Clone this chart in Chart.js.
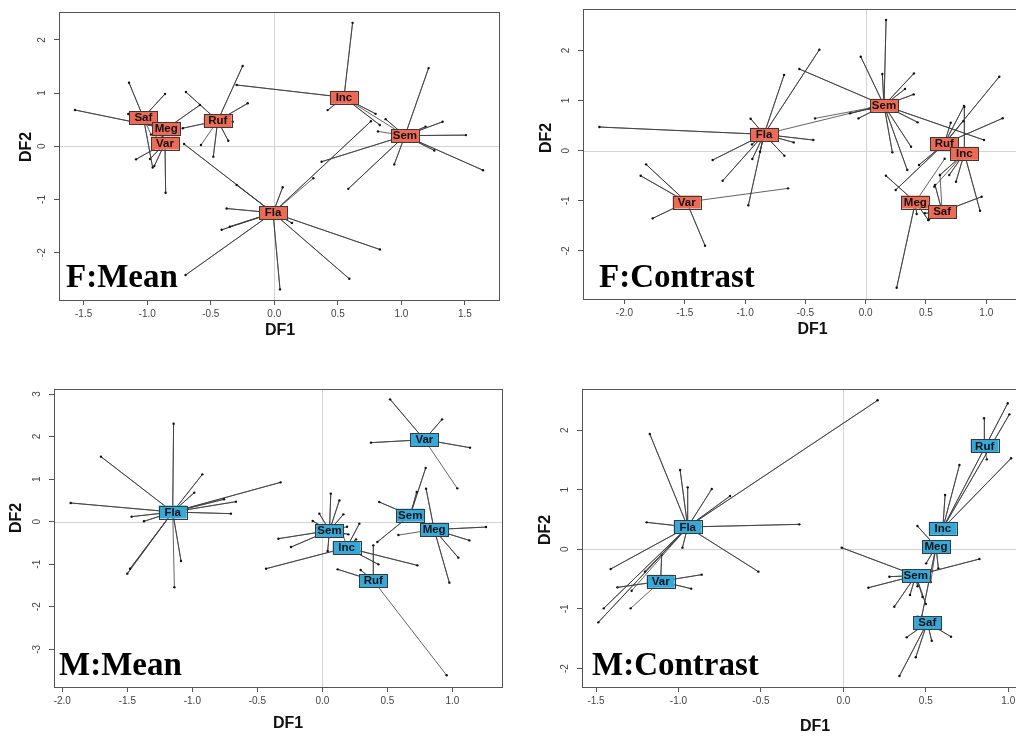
<!DOCTYPE html>
<html>
<head>
<meta charset="utf-8">
<script src="https://cdn.jsdelivr.net/npm/chart.js@4.4.1/dist/chart.umd.min.js"></script>
<style>
html, body { margin: 0; padding: 0; background: #fff; overflow: hidden; width: 1016px; height: 736px; }
canvas { position: absolute; }
</style>
</head>
<body>
<canvas id="fMean" width="508" height="345" style="left:0;top:0"></canvas>
<canvas id="fContrast" width="545" height="345" style="left:508px;top:0"></canvas>
<canvas id="mMean" width="508" height="366" style="left:0;top:370px"></canvas>
<canvas id="mContrast" width="545" height="366" style="left:508px;top:370px"></canvas>
<script>
// ---- F:Mean ----
const fMeanGroups = ['Saf', 'Meg', 'Var', 'Ruf', 'Inc', 'Sem', 'Fla'];
const fMeanCentroids = [[-1.03, 0.54], [-0.85, 0.33], [-0.86, 0.06], [-0.445, 0.48], [0.548, 0.92], [1.028, 0.20], [-0.01, -1.25]];
const fMeanPoints = [
    [[-1.143, 1.195], [-0.86, 0.983], [-1.149, 0.607], [-0.957, -0.40], [-0.97, 0.22]],
    [[-1.568, 0.682], [-0.585, 0.776], [-0.93, 0.21], [-0.76, 0.34], [-0.88, 0.18]],
    [[-1.088, -0.245], [-0.978, -0.24], [-0.944, -0.37], [-0.855, -0.872], [-0.93, 0.16]],
    [[-0.695, 1.02], [-0.249, 1.51], [-0.209, 0.808], [-0.327, 0.463], [-0.72, 0.34], [-0.362, 0.105], [-0.48, -0.195], [-0.577, 0.024]],
    [[0.616, 2.32], [0.42, 0.68], [0.797, 0.61], [-0.296, 1.152], [0.83, 0.40], [0.976, 0.28]],
    [[1.214, 1.47], [1.324, 0.46], [1.19, 0.37], [1.508, 0.21], [1.642, -0.45], [1.259, -0.08], [0.944, -0.34], [0.582, -0.80], [0.372, -0.29], [0.876, 0.51], [0.816, 0.28]],
    [[0.066, -0.77], [-0.375, -1.17], [-0.414, -1.57], [-0.35, -1.51], [-0.698, -2.42], [0.045, -2.69], [0.59, -2.49], [0.831, -1.94], [0.139, -1.44], [-0.71, 0.043], [-0.296, -0.727], [0.76, 0.47], [0.307, -0.60]]
];
const fMeanXTicks = [-1.5, -1.0, -0.5, 0.0, 0.5, 1.0, 1.5];
const fMeanYTicks = [-2, -1, 0, 1, 2];

// ---- F:Contrast ----
const fContrastGroups = ['Sem', 'Fla', 'Var', 'Ruf', 'Inc', 'Meg', 'Saf'];
const fContrastCentroids = [[0.152, 0.905], [-0.843, 0.326], [-1.484, -1.025], [0.652, 0.138], [0.818, -0.053], [0.412, -1.025], [0.634, -1.218]];
const fContrastPoints = [
    [[0.169, 2.608], [-0.041, 1.876], [0.138, 1.53], [0.40, 1.543], [0.326, 1.231], [0.398, 1.124], [-0.55, 1.63], [0.431, 0.566], [0.376, 0.08], [0.221, -0.033], [0.345, -0.386], [0.981, 0.213], [-0.06, 0.645], [-0.13, 0.745], [-0.42, 0.645]],
    [[-2.208, 0.472], [-0.954, 0.639], [-0.677, 1.51], [-0.384, 2.016], [-0.434, 0.213], [-0.597, 0.166], [-0.674, -0.10], [-1.269, -0.186], [-1.186, -0.60], [-0.973, -1.09], [-0.94, -0.166], [-0.943, 0.126], [-0.876, -0.02], [0.03, 0.84]],
    [[-1.821, -0.273], [-1.866, -0.50], [-1.766, -1.35], [-1.332, -1.896], [-0.644, -0.752]],
    [[0.705, 0.559], [0.815, 0.892], [1.108, 1.477], [1.136, 0.647], [0.249, -0.784], [0.442, -0.285], [0.81, 0.59]],
    [[0.749, -0.619], [0.948, -1.198], [0.818, 0.878], [0.693, -0.485], [0.616, -0.485], [0.569, -0.718]],
    [[0.168, -0.499], [0.257, -2.735], [0.423, -1.263], [0.52, -1.383], [0.655, -0.16]],
    [[0.962, -0.918], [0.52, -1.383], [0.49, -1.25], [0.575, -0.685], [0.616, -0.486]]
];
const fContrastXTicks = [-2.0, -1.5, -1.0, -0.5, 0.0, 0.5, 1.0];
const fContrastYTicks = [-2, -1, 0, 1, 2];

// ---- M:Mean ----
const mMeanGroups = ['Fla', 'Var', 'Sem', 'Sem', 'Meg', 'Inc', 'Ruf'];
const mMeanCentroids = [[-1.151, 0.227], [0.785, 1.927], [0.055, -0.21], [0.676, 0.152], [0.86, -0.185], [0.187, -0.611], [0.392, -1.385]];
const mMeanPoints = [
    [[-1.144, 2.303], [-1.703, 1.528], [-0.923, 1.112], [-0.985, 0.682], [-0.321, 0.924], [-0.664, 0.47], [-0.756, 0.525], [-0.703, 0.188], [-1.936, 0.439], [-1.467, 0.118], [-1.372, 0.008], [-1.50, -1.222], [-1.479, -1.105], [-1.087, -0.924], [-1.138, -1.543]],
    [[0.521, 2.875], [0.921, 2.405], [0.374, 1.857], [1.136, 1.739], [1.038, 0.783]],
    [[0.065, 0.658], [0.131, 0.50], [-0.023, 0.188], [0.162, 0.172], [-0.074, 0.015], [-0.338, -0.40], [-0.241, -0.597], [0.041, -0.69], [0.2, -0.298], [0.19, -0.12]],
    [[0.795, 1.261], [0.726, 0.696], [0.438, 0.461], [0.423, -0.479], [0.585, 0.12]],
    [[0.798, 0.776], [1.259, -0.127], [1.131, -0.44], [1.046, -0.846], [0.977, -1.434], [0.585, -0.315]],
    [[-0.433, -1.105], [0.285, -0.047], [0.259, -0.416], [0.731, -1.027], [0.431, -1.003], [0.16, -0.3]],
    [[0.118, -1.121], [0.295, -1.137], [0.392, -0.557], [0.956, -3.611]]
];
const mMeanXTicks = [-2.0, -1.5, -1.0, -0.5, 0.0, 0.5, 1.0];
const mMeanYTicks = [-3, -2, -1, 0, 1, 2, 3];

// ---- M:Contrast ----
const mContrastGroups = ['Fla', 'Var', 'Ruf', 'Inc', 'Meg', 'Sem', 'Saf'];
const mContrastCentroids = [[-0.944, 0.375], [-1.108, -0.537], [0.857, 1.736], [0.603, 0.352], [0.562, 0.045], [0.439, -0.44], [0.509, -1.23]];
const mContrastPoints = [
    [[0.208, 2.50], [-1.174, 1.935], [-0.99, 1.331], [-0.944, 1.04], [-0.798, 1.012], [-0.687, 0.895], [-1.193, 0.453], [-0.267, 0.419], [-0.515, -0.375], [-0.976, 0.028], [-1.411, -0.33], [-1.453, -0.99], [-1.486, -1.225], [-1.203, -0.375], [-1.284, -0.694]],
    [[-1.102, -0.095], [-0.859, -0.425], [-0.923, -0.66], [-1.37, -0.638], [-1.29, -0.99]],
    [[0.853, 2.198], [0.87, 1.51]],
    [[0.997, 2.45], [1.007, 2.265], [1.017, 1.527], [0.704, 1.414], [0.617, 0.911], [0.6, 0.25]],
    [[0.449, 0.391], [0.576, -0.319], [0.502, -0.235], [0.475, -1.131], [0.53, -0.55]],
    [[-0.01, 0.027], [0.825, -0.163], [0.279, -0.459], [0.152, -0.644], [0.309, -0.963], [0.404, -0.767], [0.5, -0.918], [0.45, -0.62], [0.48, -0.8]],
    [[0.34, -2.126], [0.439, -1.812], [0.536, -1.533], [0.653, -1.466], [0.384, -1.477], [0.45, -1.13]]
];
const mContrastXTicks = [-1.5, -1.0, -0.5, 0.0, 0.5, 1.0];
const mContrastYTicks = [-2, -1, 0, 1, 2];

const ORANGE = '#ef6a55';
const BLUE = '#35a9da';

// draws the R-ish frame, zero lines, rotated y labels, axis titles, boxed group labels and the panel tag
function makeRPlot(p) {
    return {
        id: 'rPlot',
        beforeDatasetsDraw(chart) {
            const { ctx, chartArea: a, scales: { x, y } } = chart;
            ctx.save();
            ctx.lineWidth = 1;
            ctx.strokeStyle = '#d4d4d4';
            const x0 = Math.round(x.getPixelForValue(0)) + 0.5;
            const y0 = Math.round(y.getPixelForValue(0)) + 0.5;
            ctx.beginPath();
            ctx.moveTo(x0, a.top); ctx.lineTo(x0, a.bottom);
            ctx.moveTo(a.left, y0); ctx.lineTo(a.right, y0);
            ctx.stroke();
            ctx.strokeStyle = '#555';
            ctx.strokeRect(Math.round(a.left) + 0.5, Math.round(a.top) + 0.5, Math.round(a.right - a.left), Math.round(a.bottom - a.top));

            // y tick labels, rotated like R
            ctx.fillStyle = '#444';
            ctx.font = '10px "Liberation Sans", Arial, sans-serif';
            ctx.textAlign = 'center';
            ctx.textBaseline = 'middle';
            p.yTicks.forEach(v => {
                ctx.save();
                ctx.translate(a.left - 17, y.getPixelForValue(v));
                ctx.rotate(-Math.PI / 2);
                ctx.fillText(String(v), 0, 0);
                ctx.restore();
            });

            // axis titles
            ctx.fillStyle = '#111';
            ctx.font = 'bold 16px "Liberation Sans", Arial, sans-serif';
            ctx.fillText('DF1', (a.left + a.right) / 2 + p.t1dx, a.bottom + p.t1dy);
            ctx.save();
            ctx.translate(a.left - p.t2dx, (a.top + a.bottom) / 2 + p.t2dy);
            ctx.rotate(-Math.PI / 2);
            ctx.fillText('DF2', 0, 0);
            ctx.restore();
            ctx.restore();
        },
        afterDatasetsDraw(chart) {
            const { ctx, chartArea: a, scales: { x, y } } = chart;
            ctx.save();
            ctx.textAlign = 'center';
            ctx.textBaseline = 'middle';
            ctx.font = 'bold 11.5px "Liberation Sans", Arial, sans-serif';
            p.groups.forEach((name, i) => {
                const cx = x.getPixelForValue(p.centroids[i][0]);
                const cy = y.getPixelForValue(p.centroids[i][1]);
                ctx.fillStyle = p.fill;
                ctx.fillRect(cx - 14, cy - 6.5, 28, 13);
                ctx.strokeStyle = '#3a3a3a';
                ctx.lineWidth = 1;
                ctx.strokeRect(Math.round(cx - 14) + 0.5, Math.round(cy - 6.5) + 0.5, 28, 13);
                ctx.fillStyle = '#111';
                ctx.fillText(name, cx, cy + 0.5);
            });
            ctx.font = 'bold 33px "Liberation Serif", "Times New Roman", serif';
            ctx.textAlign = 'left';
            ctx.textBaseline = 'alphabetic';
            ctx.fillStyle = '#000';
            ctx.fillText(p.tag, a.left + p.tagDx, a.bottom - p.tagDy);
            ctx.restore();
        }
    };
}

function makePanel(id, p) {
    const datasets = p.groups.map((name, i) => {
        const c = p.centroids[i];
        const data = [];
        p.points[i].forEach(pt => {
            data.push({ x: c[0], y: c[1] });
            data.push({ x: pt[0], y: pt[1] });
        });
        return {
            label: name,
            data: data,
            showLine: true,
            borderColor: '#3c3c3c',
            borderWidth: 0.8,
            pointRadius: ctx => (ctx.index % 2 ? 1.2 : 0),
            pointBackgroundColor: '#111',
            pointBorderWidth: 0
        };
    });
    new Chart(document.getElementById(id), {
        type: 'scatter',
        data: { datasets: datasets },
        plugins: [makeRPlot(p)],
        options: {
            responsive: false,
            animation: false,
            events: [],
            layout: { padding: { top: p.padTop, right: p.padRight, left: 0, bottom: 0 } },
            plugins: { legend: { display: false }, tooltip: { enabled: false } },
            scales: {
                x: {
                    type: 'linear',
                    min: p.xRange[0],
                    max: p.xRange[1],
                    afterBuildTicks: axis => { axis.ticks = p.xTicks.map(v => ({ value: v })); },
                    afterFit: axis => { axis.height = p.xAxisH; },
                    grid: { display: true, drawOnChartArea: false, drawTicks: true, tickLength: 5, color: '#555' },
                    border: { display: false },
                    ticks: {
                        autoSkip: false,
                        maxRotation: 0,
                        padding: 3,
                        color: '#444',
                        font: { family: '"Liberation Sans", Arial, sans-serif', size: 10 },
                        callback: v => v.toFixed(1)
                    }
                },
                y: {
                    type: 'linear',
                    min: p.yRange[0],
                    max: p.yRange[1],
                    afterBuildTicks: axis => { axis.ticks = p.yTicks.map(v => ({ value: v })); },
                    afterFit: axis => { axis.width = p.yAxisW; },
                    grid: { display: true, drawOnChartArea: false, drawTicks: true, tickLength: 5, color: '#555' },
                    border: { display: false },
                    ticks: { display: false }
                }
            }
        }
    });
}

makePanel('fMean', {
    groups: fMeanGroups, centroids: fMeanCentroids, points: fMeanPoints,
    xTicks: fMeanXTicks, yTicks: fMeanYTicks,
    xRange: [-1.694, 1.768], yRange: [-2.889, 2.524],
    padTop: 12, padRight: 9, yAxisW: 59, xAxisH: 45,
    fill: ORANGE, tag: 'F:Mean', tagDx: 7, tagDy: 13,
    t1dx: 1, t1dy: 31, t2dx: 32, t2dy: -9
});
makePanel('fContrast', {
    groups: fContrastGroups, centroids: fContrastCentroids, points: fContrastPoints,
    xTicks: fContrastXTicks, yTicks: fContrastYTicks,
    xRange: [-2.344, 1.462], yRange: [-2.96, 2.828],
    padTop: 9, padRight: 11, yAxisW: 75, xAxisH: 46,
    fill: ORANGE, tag: 'F:Contrast', tagDx: 16, tagDy: 12,
    t1dx: 0, t1dy: 31, t2dx: 36, t2dy: -16
});
makePanel('mMean', {
    groups: mMeanGroups, centroids: mMeanCentroids, points: mMeanPoints,
    xTicks: mMeanXTicks, yTicks: mMeanYTicks,
    xRange: [-2.064, 1.382], yRange: [-3.886, 3.118],
    padTop: 19, padRight: 6, yAxisW: 54, xAxisH: 49,
    fill: BLUE, tag: 'M:Mean', tagDx: 5, tagDy: 12,
    t1dx: 10, t1dy: 37, t2dx: 37, t2dy: -20
});
makePanel('mContrast', {
    groups: mContrastGroups, centroids: mContrastCentroids, points: mContrastPoints,
    xTicks: mContrastXTicks, yTicks: mContrastYTicks,
    xRange: [-1.585, 1.241], yRange: [-2.31, 2.69],
    padTop: 19, padRight: 5, yAxisW: 74, xAxisH: 49,
    fill: BLUE, tag: 'M:Contrast', tagDx: 10, tagDy: 12,
    t1dx: 0, t1dy: 40, t2dx: 36, t2dy: -8
});
</script>
</body>
</html>
